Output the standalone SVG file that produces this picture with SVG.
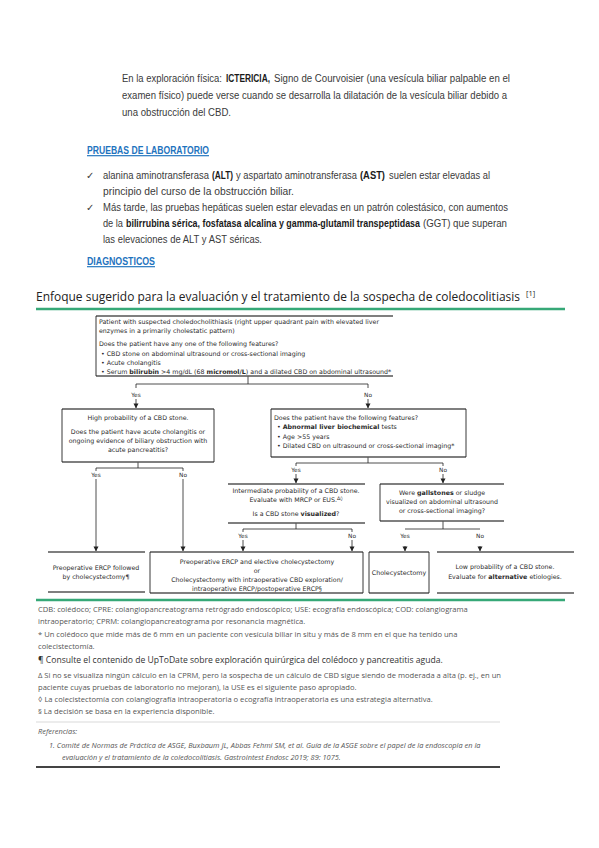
<svg xmlns="http://www.w3.org/2000/svg" width="599" height="848" viewBox="0 0 599 848">
<defs>
<style>
.body{font-family:"Liberation Sans",Arial,sans-serif;font-size:11.5px;fill:#3a3a3a}
.b{font-weight:bold;fill:#1a1a1a}
.head{font-family:"Liberation Sans",Arial,sans-serif;font-size:11.5px;font-weight:bold;fill:#1e73be;text-decoration:underline}
.chk{font-family:"DejaVu Sans",sans-serif;font-size:10px;fill:#3a3a3a}
.title{font-family:"Open Sans","Noto Sans",sans-serif;font-size:12.5px;font-weight:500;fill:#222}
.fc{font-family:"DejaVu Sans",Verdana,sans-serif;font-size:6.3px;fill:#2a2a2a}
.fcb{font-weight:bold}
.c{text-anchor:middle}
.yn{font-family:"DejaVu Sans",Verdana,sans-serif;font-size:5.8px;fill:#2a2a2a;text-anchor:middle}
.fn{font-family:"Open Sans","Noto Sans",sans-serif;font-size:7.6px;fill:#555}
.fn2{font-family:"Open Sans","Noto Sans",sans-serif;font-size:8.6px;fill:#333}
.ref{font-family:"Open Sans","Noto Sans",sans-serif;font-size:7.4px;fill:#555;font-style:italic}
.tb{stroke:#555;stroke-width:1.6;fill:none}
.sd{stroke:#222;stroke-width:0.9;fill:none}
.cn{stroke:#222;stroke-width:0.8;fill:none}
.green{stroke:#36a877;stroke-width:2.6}
</style>
<marker id="arr" markerUnits="userSpaceOnUse" markerWidth="5" markerHeight="6" refX="4.6" refY="2.5" orient="auto">
<path d="M0,0 L5,2.5 L0,5 z" fill="#222"/>
</marker>
</defs>
<rect width="599" height="848" fill="#ffffff"/>

<g id="intro">
<text class="chk" x="86" y="179">✓</text>
<text class="chk" x="86" y="211">✓</text>
<g transform="scale(0.75 1)">
<text class="body" x="162.67" y="82" textLength="133.33" lengthAdjust="spacingAndGlyphs">En la exploración física:</text>
<text class="body" x="365.33" y="82" textLength="314.67" lengthAdjust="spacingAndGlyphs">Signo de Courvoisier (una vesícula biliar palpable en el</text>
<text class="body" x="162.67" y="99" textLength="513.33" lengthAdjust="spacingAndGlyphs">examen físico) puede verse cuando se desarrolla la dilatación de la vesícula biliar debido a</text>
<text class="body" x="162.67" y="116" textLength="145.33" lengthAdjust="spacingAndGlyphs">una obstrucción del CBD.</text>
<text class="head" x="116" y="154" textLength="162.67" lengthAdjust="spacingAndGlyphs">PRUEBAS DE LABORATORIO</text>
<text class="body" x="137.33" y="179" textLength="141.33" lengthAdjust="spacingAndGlyphs">alanina aminotransferasa</text>
<text class="body" x="314.67" y="179" textLength="161.33" lengthAdjust="spacingAndGlyphs">y aspartato aminotransferasa</text>
<text class="body" x="518.67" y="179" textLength="134.67" lengthAdjust="spacingAndGlyphs">suelen estar elevadas al</text>
<text class="body" x="137.33" y="195" textLength="254.67" lengthAdjust="spacingAndGlyphs">principio del curso de la obstrucción biliar.</text>
<text class="body" x="137.33" y="211" textLength="540" lengthAdjust="spacingAndGlyphs">Más tarde, las pruebas hepáticas suelen estar elevadas en un patrón colestásico, con aumentos</text>
<text class="body" x="137.33" y="227" textLength="26.67" lengthAdjust="spacingAndGlyphs">de la</text>
<text class="body" x="564" y="227" textLength="112" lengthAdjust="spacingAndGlyphs">(GGT) que superan</text>
<text class="body" x="137.33" y="243" textLength="212" lengthAdjust="spacingAndGlyphs">las elevaciones de ALT y AST séricas.</text>
<text class="head" x="116" y="265" textLength="90.67" lengthAdjust="spacingAndGlyphs">DIAGNOSTICOS</text>
</g>
<g transform="scale(0.68 1)">
<text class="body b" x="332.35" y="82" textLength="64.71" lengthAdjust="spacingAndGlyphs">ICTERICIA,</text>
<text class="body b" x="311.76" y="179" textLength="30.88" lengthAdjust="spacingAndGlyphs">(ALT)</text>
<text class="body b" x="529.41" y="179" textLength="36.76" lengthAdjust="spacingAndGlyphs">(AST)</text>
<text class="body b" x="185.29" y="227" textLength="432.35" lengthAdjust="spacingAndGlyphs">bilirrubina sérica, fosfatasa alcalina y gamma-glutamil transpeptidasa</text>
</g>
</g>

<g id="title">
<g transform="scale(0.85 1)">
<text class="title" x="42.35" y="301" textLength="569.41" lengthAdjust="spacingAndGlyphs">Enfoque sugerido para la evaluación y el tratamiento de la sospecha de coledocolitiasis</text>
</g>
<text class="title" x="526" y="296" style="font-size:7.5px">[1]</text>
<line class="green" x1="36" y1="309" x2="565" y2="309"/>
</g>

<g id="connectors">
<path class="cn" d="M248,376 V384 M136,384 H368 M136,384 V388 M368,384 V388"/>
<line class="cn" x1="136" y1="399" x2="136" y2="408" marker-end="url(#arr)"/>
<line class="cn" x1="368" y1="399" x2="368" y2="408" marker-end="url(#arr)"/>
<path class="cn" d="M138,462 V468 M96,468 H183 M96,468 V471 M183,468 V471"/>
<line class="cn" x1="96" y1="479" x2="96" y2="551" marker-end="url(#arr)"/>
<line class="cn" x1="183" y1="479" x2="183" y2="551" marker-end="url(#arr)"/>
<path class="cn" d="M368,457 V463 M296,463 H443 M296,463 V466 M443,463 V466"/>
<line class="cn" x1="296" y1="474" x2="296" y2="483" marker-end="url(#arr)"/>
<line class="cn" x1="443" y1="474" x2="443" y2="483" marker-end="url(#arr)"/>
<path class="cn" d="M296,523 V529 M243,529 H352 M243,529 V532 M352,529 V532"/>
<line class="cn" x1="243" y1="540" x2="243" y2="551" marker-end="url(#arr)"/>
<line class="cn" x1="352" y1="540" x2="352" y2="551" marker-end="url(#arr)"/>
<path class="cn" d="M443,521 V529 M405,529 H480"/>
<line class="cn" x1="405" y1="546" x2="405" y2="551" marker-end="url(#arr)"/>
<line class="cn" x1="480" y1="546" x2="480" y2="551" marker-end="url(#arr)"/>
<text class="yn" x="136" y="397">Yes</text>
<text class="yn" x="368" y="397">No</text>
<text class="yn" x="96" y="477">Yes</text>
<text class="yn" x="183" y="477">No</text>
<text class="yn" x="296" y="472">Yes</text>
<text class="yn" x="443" y="472">No</text>
<text class="yn" x="243" y="538">Yes</text>
<text class="yn" x="352" y="538">No</text>
<text class="yn" x="405" y="538">Yes</text>
<text class="yn" x="480" y="538">No</text>
</g>

<g id="n-start">
<path class="tb" d="M96,316 H393 M96,376 H393"/>
<path class="sd" d="M96,316 V376"/>
<text class="fc" x="99" y="324">Patient with suspected choledocholithiasis (right upper quadrant pain with elevated liver</text>
<text class="fc" x="99" y="333">enzymes in a primarily cholestatic pattern)</text>
<text class="fc" x="99" y="346">Does the patient have any one of the following features?</text>
<text class="fc" x="101" y="356">• CBD stone on abdominal ultrasound or cross-sectional imaging</text>
<text class="fc" x="101" y="365">• Acute cholangitis</text>
<text class="fc" x="101" y="374">• Serum <tspan class="fcb">bilirubin</tspan> &gt;4 mg/dL (68 <tspan class="fcb">micromol/L</tspan>) and a dilated CBD on abdominal ultrasound*</text>
</g>

<g id="n-high">
<path class="tb" d="M62,409 H214 M62,462 H214"/>
<path class="sd" d="M62,409 V462 M214,409 V462"/>
<text class="fc c" x="138" y="420">High probability of a CBD stone.</text>
<text class="fc c" x="138" y="434">Does the patient have acute cholangitis or</text>
<text class="fc c" x="138" y="443">ongoing evidence of biliary obstruction with</text>
<text class="fc c" x="138" y="452">acute pancreatitis?</text>
</g>

<g id="n-features">
<path class="tb" d="M271,409 H466 M271,457 H466"/>
<path class="sd" d="M271,409 V457 M466,409 V457"/>
<text class="fc" x="274" y="420">Does the patient have the following features?</text>
<text class="fc" x="277" y="429">• <tspan class="fcb">Abnormal liver biochemical</tspan> tests</text>
<text class="fc" x="277" y="439">• Age &gt;55 years</text>
<text class="fc" x="277" y="448">• Dilated CBD on ultrasound or cross-sectional imaging*</text>
</g>

<g id="n-intermediate">
<path class="tb" d="M228,484 H365 M228,523 H365"/>
<text class="fc c" x="296" y="493">Intermediate probability of a CBD stone.</text>
<text class="fc c" x="296" y="502">Evaluate with MRCP or EUS.<tspan font-size="4.8" dy="-1.8">Δ◊</tspan></text>
<text class="fc c" x="296" y="516">Is a CBD stone <tspan class="fcb">visualized</tspan>?</text>
</g>

<g id="n-gallstones">
<path class="tb" d="M380,484 H504 M380,521 H504"/>
<path class="sd" d="M380,484 V521"/>
<text class="fc c" x="442" y="495">Were <tspan class="fcb">gallstones</tspan> or sludge</text>
<text class="fc c" x="442" y="504">visualized on abdominal ultrasound</text>
<text class="fc c" x="442" y="513">or cross-sectional imaging?</text>
</g>

<g id="n-ercp-first">
<path class="tb" d="M48,552 H145 M48,592 H145"/>
<text class="fc c" x="96" y="570">Preoperative ERCP followed</text>
<text class="fc c" x="96" y="579">by cholecystectomy¶</text>
</g>

<g id="n-ercp-or">
<path class="tb" d="M150,552 H363 M150,593 H363"/>
<path class="sd" d="M150,552 V593 M363,552 V593"/>
<text class="fc c" x="257" y="564">Preoperative ERCP and elective cholecystectomy</text>
<text class="fc c" x="257" y="573">or</text>
<text class="fc c" x="257" y="582">Cholecystectomy with intraoperative CBD exploration/</text>
<text class="fc c" x="257" y="591">intraoperative ERCP/postoperative ERCP§</text>
</g>

<g id="n-chole">
<path class="tb" d="M369,552 H429 M369,593 H429"/>
<path class="sd" d="M369,552 V593 M429,552 V593"/>
<text class="fc c" x="399" y="575">Cholecystectomy</text>
</g>

<g id="n-low">
<path class="tb" d="M437,552 H574 M437,593 H574"/>
<text class="fc c" x="505" y="569">Low probability of a CBD stone.</text>
<text class="fc c" x="505" y="579">Evaluate for <tspan class="fcb">alternative</tspan> etiologies.</text>
</g>

<g id="notes">
<line class="green" x1="36" y1="600" x2="565" y2="600"/>
<text class="fn" x="38" y="612">CDB: colédoco; CPRE: colangiopancreatograma retrógrado endoscópico; USE: ecografía endoscópica; COD: colangiograma</text>
<text class="fn" x="38" y="624">intraoperatorio; CPRM: colangiopancreatograma por resonancia magnética.</text>
<text class="fn" x="38" y="637">* Un colédoco que mide más de 6 mm en un paciente con vesícula biliar in situ y más de 8 mm en el que ha tenido una</text>
<text class="fn" x="38" y="649">colecistectomía.</text>
<text class="fn2" x="38" y="663">¶ Consulte el contenido de UpToDate sobre exploración quirúrgica del colédoco y pancreatitis aguda.</text>
<text class="fn" x="38" y="678">Δ Si no se visualiza ningún cálculo en la CPRM, pero la sospecha de un cálculo de CBD sigue siendo de moderada a alta (p. ej., en un</text>
<text class="fn" x="38" y="690">paciente cuyas pruebas de laboratorio no mejoran), la USE es el siguiente paso apropiado.</text>
<text class="fn" x="38" y="702">◊ La colecistectomía con colangiografía intraoperatoria o ecografía intraoperatoria es una estrategia alternativa.</text>
<text class="fn" x="38" y="714">§ La decisión se basa en la experiencia disponible.</text>
<line x1="36" y1="722" x2="500" y2="722" stroke="#cfcfcf" stroke-width="0.8"/>
<text class="ref" x="38" y="734">Referencias:</text>
<text class="ref" x="49" y="748">1. Comité de Normas de Práctica de ASGE, Buxbaum JL, Abbas Fehmi SM, et al. Guía de la ASGE sobre el papel de la endoscopia en la</text>
<text class="ref" x="62" y="760">evaluación y el tratamiento de la coledocolitiasis. Gastrointest Endosc 2019; 89: 1075.</text>
<line x1="36" y1="767" x2="500" y2="767" stroke="#444" stroke-width="1.8"/>
</g>
</svg>
